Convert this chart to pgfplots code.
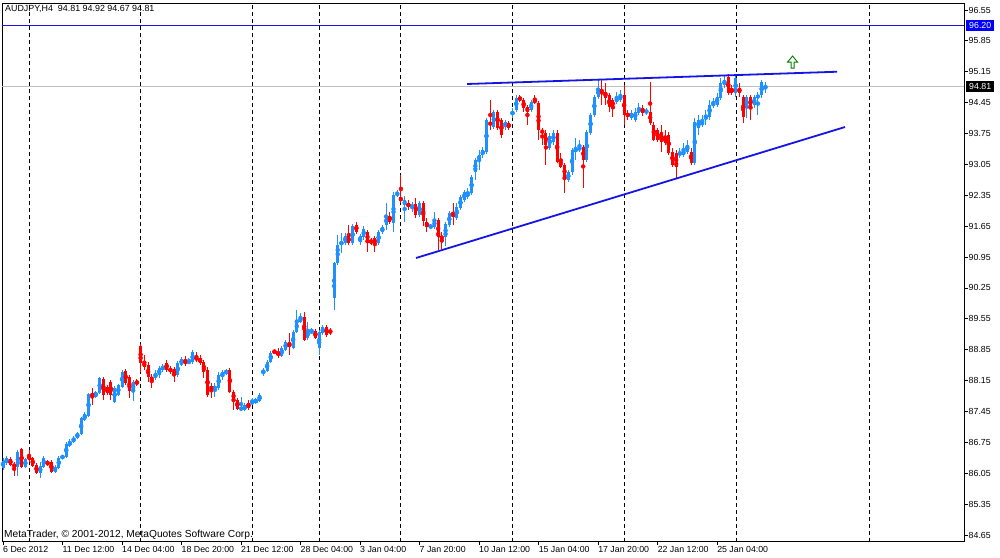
\documentclass[border=0pt]{standalone}
\usepackage{pgfplots}
\pgfplotsset{compat=1.18}
\usepackage{pgfplotstable}
\usepackage{fontspec}
\setmainfont{Liberation Sans}
\definecolor{upc}{RGB}{30,144,255}
\definecolor{dnc}{RGB}{255,0,0}
\definecolor{tlc}{RGB}{20,20,230}
\definecolor{agreen}{RGB}{0,128,0}
\pgfdeclareplotmark{mtup}{%
 \pgfpathmoveto{\pgfqpoint{-1.5pt}{-6pt}}%
 \pgfpathlineto{\pgfqpoint{1.5pt}{-6pt}}%
 \pgfpathlineto{\pgfqpoint{1.5pt}{0pt}}%
 \pgfpathlineto{\pgfqpoint{5pt}{0pt}}%
 \pgfpathlineto{\pgfqpoint{0pt}{6pt}}%
 \pgfpathlineto{\pgfqpoint{-5pt}{0pt}}%
 \pgfpathlineto{\pgfqpoint{-1.5pt}{0pt}}%
 \pgfpathclose
 \pgfusepathqfillstroke}
\pgfplotstableread{
i o h l c
0 86.17 86.40 86.12 86.33
1 86.28 86.44 86.24 86.40
2 86.37 86.42 86.21 86.24
3 86.26 86.31 85.99 86.19
4 86.19 86.58 85.99 86.53
5 86.60 86.62 86.17 86.19
6 86.19 86.40 86.17 86.37
7 86.46 86.58 86.31 86.35
8 86.40 86.42 86.19 86.21
9 86.24 86.28 86.03 86.06
10 86.06 86.31 85.94 86.21
11 86.19 86.44 86.17 86.40
12 86.31 86.35 86.21 86.24
13 86.31 86.35 86.06 86.08
14 86.08 86.24 86.06 86.19
15 86.17 86.44 86.15 86.40
16 86.40 86.46 86.37 86.44
17 86.42 86.76 86.40 86.71
18 86.67 86.83 86.64 86.78
19 86.76 86.89 86.74 86.85
20 86.85 86.98 86.83 86.96
21 86.94 87.32 86.92 87.30
22 87.26 87.44 87.23 87.39
23 87.35 87.87 87.32 87.85
24 87.87 87.98 87.60 87.78
25 87.78 87.91 87.76 87.89
26 87.87 88.23 87.85 88.21
27 88.19 88.23 87.71 87.82
28 88.01 88.05 87.82 87.87
29 88.12 88.16 87.71 87.82
30 87.67 88.03 87.64 87.98
31 87.82 88.07 87.80 88.05
32 88.01 88.39 87.98 88.35
33 88.37 88.41 88.05 88.10
34 88.23 88.28 87.76 87.91
35 87.89 88.16 87.69 88.12
36 88.14 88.19 88.03 88.07
37 88.93 88.98 88.35 88.55
38 88.57 88.73 88.39 88.46
39 88.50 88.57 88.12 88.23
40 88.23 88.30 87.98 88.16
41 88.21 88.39 88.16 88.32
42 88.28 88.48 88.21 88.43
43 88.39 88.53 88.35 88.48
44 88.55 88.62 88.35 88.39
45 88.43 88.48 88.30 88.35
46 88.41 88.46 88.12 88.28
47 88.28 88.59 88.23 88.55
48 88.50 88.68 88.48 88.64
49 88.62 88.71 88.48 88.53
50 88.55 88.66 88.53 88.59
51 88.57 88.84 88.53 88.80
52 88.68 88.80 88.57 88.62
53 88.66 88.73 88.50 88.55
54 88.57 88.62 88.21 88.35
55 88.39 88.46 87.78 87.82
56 88.03 88.10 87.76 87.94
57 87.94 88.10 87.78 88.03
58 87.98 88.35 87.94 88.28
59 88.23 88.39 88.16 88.35
60 88.32 88.41 88.28 88.37
61 88.39 88.44 87.87 87.89
62 87.89 87.94 87.48 87.71
63 87.71 87.76 87.48 87.50
64 87.48 87.78 87.46 87.55
65 87.48 87.64 87.46 87.60
66 87.64 87.71 87.48 87.53
67 87.64 87.76 87.60 87.67
68 87.64 87.76 87.62 87.73
69 87.69 87.87 87.67 87.82
70 88.32 88.44 88.25 88.39
71 88.37 88.62 88.35 88.57
72 88.57 88.82 88.55 88.78
73 88.82 88.87 88.75 88.78
74 88.78 88.89 88.66 88.73
75 88.71 88.93 88.68 88.89
76 88.84 89.07 88.82 89.03
77 89.00 89.23 88.73 88.91
78 88.89 89.30 88.87 89.25
79 89.25 89.75 89.23 89.52
80 89.48 89.68 89.46 89.59
81 89.59 89.70 89.05 89.07
82 89.11 89.48 89.07 89.30
83 89.25 89.34 89.21 89.27
84 89.27 89.32 89.09 89.11
85 88.89 89.30 88.73 89.25
86 89.23 89.41 89.18 89.36
87 89.36 89.41 89.14 89.18
88 89.30 89.34 89.18 89.23
89 90.02 90.84 89.75 90.81
90 90.81 91.45 90.77 91.22
91 91.22 91.50 91.04 91.31
92 91.27 91.50 91.22 91.43
93 91.43 91.68 91.22 91.27
94 91.27 91.70 91.22 91.65
95 91.68 91.75 91.47 91.52
96 91.29 91.47 91.22 91.43
97 91.40 91.65 91.34 91.59
98 91.52 91.56 91.06 91.29
99 91.34 91.38 91.22 91.27
100 91.38 91.43 91.06 91.25
101 91.27 91.56 91.22 91.52
102 91.52 91.68 91.47 91.63
103 91.68 92.18 91.56 91.86
104 91.88 91.97 91.70 91.75
105 91.72 92.43 91.52 92.36
106 92.36 92.47 92.31 92.40
107 92.31 92.81 92.18 92.22
108 92.13 92.33 91.75 92.24
109 92.18 92.24 92.02 92.08
110 92.08 92.20 91.97 92.13
111 92.15 92.29 91.83 91.90
112 91.90 92.22 91.86 92.18
113 92.18 92.22 91.65 91.77
114 91.75 91.83 91.52 91.63
115 91.63 91.70 91.59 91.65
116 91.63 91.97 91.59 91.79
117 91.79 91.83 91.11 91.40
118 91.43 91.52 91.13 91.36
119 91.40 91.75 91.20 91.70
120 91.68 91.99 91.63 91.95
121 91.95 92.18 91.68 91.86
122 91.84 92.18 91.79 92.08
123 92.06 92.36 92.02 92.31
124 92.24 92.47 92.20 92.43
125 92.31 92.52 92.27 92.43
126 92.40 92.81 92.36 92.76
127 92.88 93.19 92.70 93.15
128 93.15 93.38 92.92 93.27
129 93.26 93.44 93.19 93.38
130 93.33 94.10 93.29 94.06
131 94.01 94.51 93.83 93.94
132 93.90 94.28 93.85 94.24
133 94.24 94.28 93.83 93.88
134 94.06 94.10 93.65 93.72
135 93.90 94.06 93.83 94.01
136 93.99 94.03 93.83 93.88
137 94.19 94.33 94.10 94.24
138 94.28 94.62 94.24 94.56
139 94.58 94.62 94.46 94.51
140 94.51 94.56 94.24 94.33
141 94.35 94.40 93.94 94.24
142 94.28 94.51 94.24 94.46
143 94.51 94.62 94.42 94.46
144 94.44 94.49 93.60 93.83
145 93.83 93.88 93.49 93.76
146 93.76 93.83 93.04 93.49
147 93.42 93.76 93.38 93.69
148 93.56 93.83 93.49 93.76
149 93.76 93.83 93.08 93.10
150 93.15 93.31 92.97 92.99
151 93.04 93.08 92.40 92.74
152 92.70 92.92 92.65 92.88
153 92.88 93.42 92.81 93.38
154 93.33 93.65 93.15 93.42
155 93.38 93.60 93.33 93.44
156 93.44 93.49 92.52 93.15
157 93.15 93.83 93.10 93.78
158 93.76 94.22 93.72 94.17
159 94.17 94.62 94.13 94.58
160 94.58 94.96 94.53 94.78
161 94.76 94.96 94.40 94.67
162 94.69 94.89 94.40 94.56
163 94.62 94.67 94.24 94.35
164 94.51 94.56 94.13 94.35
165 94.46 94.69 94.42 94.56
166 94.51 94.74 94.46 94.62
167 94.62 94.85 93.94 94.17
168 94.22 94.28 94.06 94.13
169 94.10 94.28 94.06 94.22
170 94.06 94.33 94.01 94.24
171 94.22 94.44 94.17 94.33
172 94.33 94.40 94.15 94.22
173 94.22 94.33 94.17 94.28
174 94.24 94.92 93.94 93.99
175 93.94 94.01 93.58 93.60
176 93.83 93.88 93.56 93.60
177 93.78 93.94 93.33 93.56
178 93.69 93.83 93.49 93.53
179 93.72 93.78 93.26 93.31
180 93.33 93.42 92.99 93.04
181 93.31 93.38 92.74 92.99
182 93.26 93.42 93.19 93.33
183 93.26 93.53 93.22 93.38
184 93.33 93.60 93.29 93.49
185 93.33 93.42 93.04 93.08
186 93.08 94.10 93.04 94.01
187 93.88 94.17 93.72 94.06
188 93.94 94.17 93.90 94.03
189 94.10 94.28 93.94 94.17
190 94.13 94.51 94.06 94.40
191 94.37 94.56 94.33 94.46
192 94.40 94.67 94.35 94.58
193 94.56 95.01 94.51 94.89
194 94.85 95.05 94.78 94.96
195 95.03 95.10 94.62 94.67
196 94.78 94.85 94.62 94.67
197 94.67 95.08 94.58 95.01
198 94.78 94.89 94.58 94.67
199 94.58 94.62 93.99 94.13
200 94.33 94.62 94.10 94.58
201 94.58 94.62 94.06 94.33
202 94.40 94.62 94.33 94.58
203 94.56 94.69 94.17 94.62
204 94.62 94.96 94.56 94.92
205 94.81 94.92 94.67 94.81
}\candles
\begin{document}
\begin{tikzpicture}
\useasboundingbox (0,0) rectangle (1000pt,557pt);
\begin{axis}[
  at={(2pt,15.5pt)}, anchor=south west,
  scale only axis, width=962pt, height=538.5pt,
  xmin=-0.27, xmax=258.4, ymin=84.503, ymax=96.709,
  clip=false,
  axis line style={black, line width=0.9pt},
  xtick={0,16,32,48,64,80,96,112,128,144,160,176,192},
  xticklabels={6 Dec 2012,11 Dec 12:00,14 Dec 04:00,18 Dec 20:00,21 Dec 12:00,28 Dec 04:00,3 Jan 04:00,7 Jan 20:00,10 Jan 12:00,15 Jan 04:00,17 Jan 20:00,22 Jan 12:00,25 Jan 04:00},
  ytick={84.65,85.35,86.05,86.75,87.45,88.15,88.85,89.55,90.25,90.95,91.65,92.35,93.05,93.75,94.45,95.15,95.85,96.55},
  yticklabels={84.65,85.35,86.05,86.75,87.45,88.15,88.85,89.55,90.25,90.95,91.65,92.35,93.05,93.75,94.45,95.15,95.85,96.55},
  xtick pos=bottom, ytick pos=right, yticklabel pos=right,
  tick align=outside, major tick length=3.5pt,
  tick style={black, line width=0.8pt},
  tick label style={font=\fontsize{8.8}{10}\selectfont, inner sep=0pt},
  xticklabel style={anchor=north west, yshift=-1pt},
  yticklabel style={anchor=west, xshift=1pt},
  extra x ticks={7.07,36.97,67.03,85.05,107,137.1,167.2,197.1,233.1},
  extra x tick labels={},
  extra x tick style={grid=major, major tick length=0pt,
    major grid style={black, line width=0.9pt, dash pattern=on 4pt off 3pt}},
]
% horizontal price lines
\addplot[tlc, line width=0.9pt, forget plot] coordinates {(-0.27,96.20) (258.4,96.20)};
\addplot[gray!50, line width=0.8pt, forget plot] coordinates {(-0.27,94.81) (258.4,94.81)};
% wicks
\addplot[upc, only marks, mark=none, forget plot,
  restrict expr to domain={\thisrow{c}-\thisrow{o}}{0:100},
  error bars/.cd, y dir=both, y explicit, error mark=none,
  error bar style={upc, line width=1pt}]
  table[x=i, y expr=(\thisrow{h}+\thisrow{l})/2, y error expr=(\thisrow{h}-\thisrow{l})/2]{\candles};
\addplot[dnc, only marks, mark=none, forget plot,
  restrict expr to domain={\thisrow{o}-\thisrow{c}}{0.0001:100},
  error bars/.cd, y dir=both, y explicit, error mark=none,
  error bar style={dnc, line width=1pt}]
  table[x=i, y expr=(\thisrow{h}+\thisrow{l})/2, y error expr=(\thisrow{h}-\thisrow{l})/2]{\candles};
% bodies
\addplot[upc, only marks, mark=none, forget plot,
  restrict expr to domain={\thisrow{c}-\thisrow{o}}{0:100},
  error bars/.cd, y dir=both, y explicit, error mark=none,
  error bar style={upc, line width=3pt}]
  table[x=i, y expr=(\thisrow{o}+\thisrow{c})/2, y error expr=abs(\thisrow{c}-\thisrow{o})/2]{\candles};
\addplot[dnc, only marks, mark=none, forget plot,
  restrict expr to domain={\thisrow{o}-\thisrow{c}}{0.0001:100},
  error bars/.cd, y dir=both, y explicit, error mark=none,
  error bar style={dnc, line width=3pt}]
  table[x=i, y expr=(\thisrow{o}+\thisrow{c})/2, y error expr=abs(\thisrow{c}-\thisrow{o})/2]{\candles};
% trend lines
\addplot[tlc, line width=1.8pt, forget plot] coordinates {(124.8,94.873) (224.3,95.151)};
\addplot[tlc, line width=1.8pt, forget plot] coordinates {(111.05,90.929) (226.4,93.898)};
% arrow object
\addplot[only marks, mark=mtup, mark options={draw=agreen, fill=white, line width=0.9pt}, forget plot] coordinates {(212.3,95.37)};
% labels
\node[anchor=north west, inner sep=0pt, font=\fontsize{8.9}{10}\selectfont, xshift=3pt, yshift=-1.7pt] at (rel axis cs:0,1) {AUDJPY,H4\ \ 94.81 94.92 94.67 94.81};
\node[anchor=base west, inner sep=0pt, font=\fontsize{10.2}{11}\selectfont, xshift=2pt, yshift=4.5pt] at (rel axis cs:0,0) {MetaTrader, © 2001-2012, MetaQuotes Software Corp.};
\node[anchor=west, fill={rgb,255:red,0;green,0;blue,255}, text=white, inner xsep=3pt, inner ysep=2.5pt, font=\fontsize{8.8}{10}\selectfont, xshift=2pt] at (axis cs:258.4,96.20) {96.20};
\node[anchor=west, fill=black, text=white, inner xsep=3pt, inner ysep=2.5pt, font=\fontsize{8.8}{10}\selectfont, xshift=2pt] at (axis cs:258.4,94.81) {94.81};
\end{axis}
\end{tikzpicture}
\end{document}
